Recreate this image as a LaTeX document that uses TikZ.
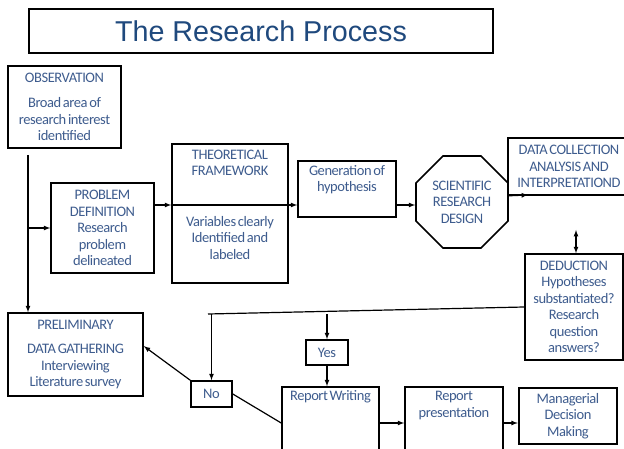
\documentclass[tikz,border=0pt]{standalone}
\usepackage{fontspec}
\setmainfont{Carlito}[LetterSpace=-3,WordSpace=0.6]
\newfontfamily\titlefont{Liberation Sans}
\usetikzlibrary{arrows,shapes.geometric,positioning}
\definecolor{titleblue}{RGB}{31,73,125}
\definecolor{textblue}{RGB}{62,92,142}

\begin{document}
\begin{tikzpicture}[x=1pt,y=-1pt,>=latex,line width=1.2pt,
  box/.style={rectangle,draw=black,line width=1.6pt,fill=white,inner sep=0pt,align=center,text=textblue},
  txt/.style={inner sep=0pt,align=center,text=textblue},
  link/.style={->,line width=1.2pt}]
\fontsize{14.5}{16.5}\selectfont
\useasboundingbox (0,0) rectangle (624,449);
\clip (0,0) rectangle (624,449);

\node[box,line width=1.4pt,minimum width=464pt,minimum height=44pt,text=titleblue] (title) at (261,31){\titlefont\fontsize{28.7}{32}\selectfont The Research Process};

% left column
\node[box,minimum width=113pt,minimum height=82pt] (obs) at (64.5,107){OBSERVATION\\[9pt]Broad area of\\research interest\\identified};
\node[box,minimum width=103pt,minimum height=90pt] (problem) at (102.5,228){PROBLEM\\DEFINITION\\Research\\problem\\delineated};
\node[box,minimum width=135pt,minimum height=83pt] (prelim) at (75.5,354.5){PRELIMINARY\\[8pt]DATA GATHERING\\Interviewing\\Literature survey};

% top row
\node[box,minimum width=116pt,minimum height=139pt] (theory) at (230,213.5){};
\node[txt] (theorytop) at (230,163){THEORETICAL\\FRAMEWORK};
\node[txt] (theorybot) at (230,238){Variables clearly\\Identified and\\labeled};
\node[box,minimum width=98pt,minimum height=56pt] (gen) at (347,189){};
\node[txt] (gentext) at (347,179.5){Generation of\\hypothesis};
\node[box,regular polygon,regular polygon sides=8,minimum size=99.6pt] (design) at (462,202){SCIENTIFIC\\RESEARCH\\DESIGN};
\node[box,minimum width=122pt,minimum height=57pt] (data) at (569,166.5){DATA COLLECTION\\ANALYSIS AND\\INTERPRETATIOND};
\node[box,minimum width=98pt,minimum height=106pt] (deduc) at (574,307){DEDUCTION\\Hypotheses\\substantiated?\\Research\\question\\answers?};

% decision
\node[box,minimum width=42pt,minimum height=25pt] (yes) at (327,352.5){Yes};
\node[box,minimum width=41pt,minimum height=26pt] (no) at (211.5,394){No};

% bottom row
\node[box,minimum width=97pt,minimum height=78pt] (writing) at (330.5,426){};
\node[txt] (writingtext) at (330.5,397){Report Writing};
\node[box,minimum width=98pt,minimum height=78pt] (present) at (454,426){};
\node[txt] (presenttext) at (454,405.5){Report\\presentation};
\node[box,line width=2.4pt,minimum width=98pt,minimum height=56pt] (manage) at (568,416){Managerial\\Decision\\Making};

\coordinate (obsout) at (28,155);
\coordinate (mainrow) at (0,205);
\coordinate (datain) at (528,195);
\coordinate (datagap) at (576,230);
\coordinate (branchL) at (208,314);
\coordinate (lowrow) at (0,423);

\draw[link] (obsout) to (obsout |- prelim.north);
\draw[link] (obsout |- problem.west) to (problem.west);
\draw[link] (problem.east |- mainrow) to (theory.west |- mainrow);
\draw[link] (theory.west |- mainrow) to (gen.west |- mainrow);
\draw[link] (gen.east |- mainrow) to (design.west |- mainrow);
\draw[link] (design.east |- data.south) to (datain);
\draw[link,<->] (datagap) to (datagap |- deduc.north);
\draw[-] (deduc.west) to (branchL);
\draw[link] (no.north |- branchL) to (no.north);
\draw[link] (yes.north |- branchL) to (yes.north);
\draw[link] (yes.south) to (yes.south |- writing.north);
\draw[link] (no.north west) to (prelim.7);
\draw[-] (no.east) to (writing.west |- lowrow);
\draw[link] (writing.east |- lowrow) to (present.west |- lowrow);
\draw[link] (present.east |- lowrow) to (manage.west |- lowrow);

\end{tikzpicture}
\end{document}
